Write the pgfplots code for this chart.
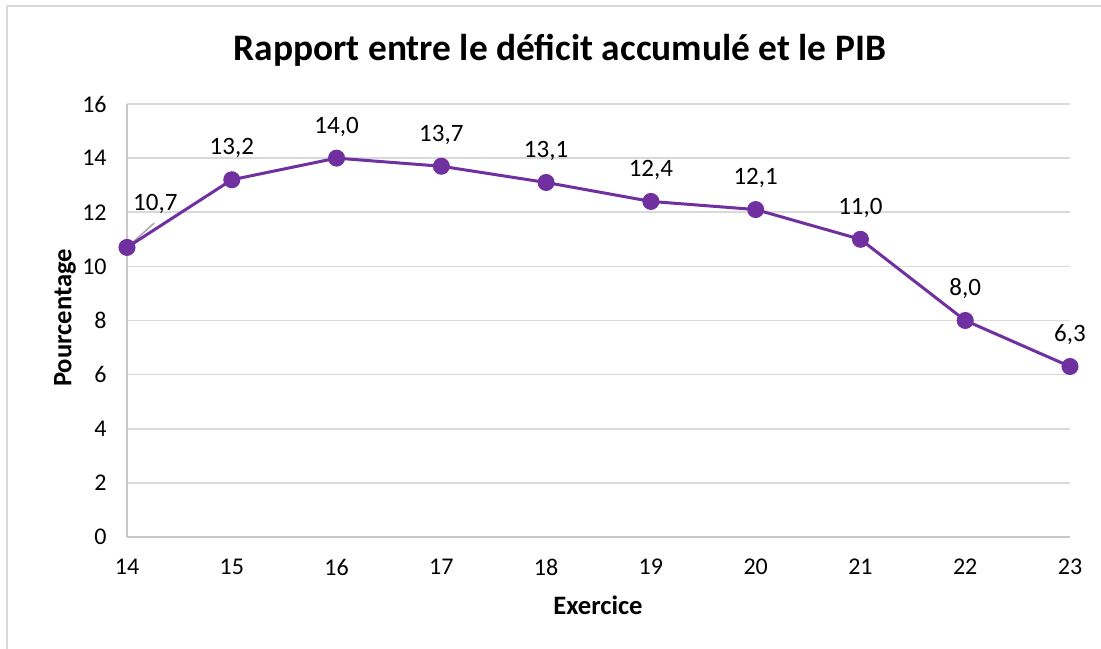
\documentclass[border=0pt]{standalone}
\usepackage{fontspec}
\setmainfont{Carlito}
\usepackage{pgfplots}
\pgfplotsset{compat=1.18}
\definecolor{cLine}{HTML}{7030A0}
\definecolor{cGrid}{HTML}{D9D9D9}
\definecolor{cAxis}{HTML}{C8C8C8}
\definecolor{cLead}{HTML}{A6A6A6}
\begin{document}
\begin{tikzpicture}
\useasboundingbox (-63.5pt,-55.5pt) rectangle (487pt,268.5pt);
% chart frame (only left and top edges fall inside the picture)
\draw[cGrid,line width=1pt] (-60pt,-60pt) -- (-60pt,265.5pt) -- (495pt,265.5pt);
\begin{axis}[
  at={(0,0)},anchor=south west,
  scale only axis,width=471.5pt,height=216.5pt,
  xmin=14,xmax=23,ymin=0,ymax=16,
  xtick={14,...,23},ytick={0,2,...,16},
  axis x line*=bottom,axis y line*=left,
  axis line style={draw=cAxis,line width=0.75pt},
  major tick length=0pt,
  ymajorgrids,major grid style={cGrid,line width=0.75pt},
  /pgf/number format/assume math mode=true,
  tick label style={font=\fontsize{12}{14}\selectfont,color=black},
  yticklabel style={anchor=east,inner sep=0pt,xshift=-10pt},
  xticklabel style={anchor=north,inner sep=0pt,yshift=-11pt},
  every axis title shift=0pt,
  title={Rapport entre le déficit accumulé et le PIB},
  title style={at={(rel axis cs:0.459,1.1247)},anchor=center,font=\fontsize{18.7}{22}\selectfont\bfseries},
  xlabel={Exercice},
  xlabel style={at={(rel axis cs:0.4995,-0.157)},anchor=center,font=\fontsize{13.3}{15}\selectfont\bfseries},
  ylabel={Pourcentage},
  ylabel style={at={(rel axis cs:-0.0657,0.506)},anchor=center,font=\fontsize{13.3}{15}\selectfont\bfseries},
  clip=false,
]
% leader line for the first data label
\draw[cLead,line width=0.75pt] (axis cs:14.26,11.6) -- (axis cs:14.0,10.7);
\addplot[cLine,line width=1.5pt,mark=*,mark size=3.5pt,mark options={fill=cLine,draw=cLine}]
  coordinates {(14,10.7) (15,13.2) (16,14.0) (17,13.7) (18,13.1) (19,12.4) (20,12.1) (21,11.0) (22,8.0) (23,6.3)};
\addplot[draw=none,mark=none,
  nodes near coords,point meta=explicit symbolic,
  every node near coord/.append style={anchor=base,yshift=12.5pt,font=\fontsize{12.5}{14}\selectfont,color=black}]
  table[meta=lab] {
x y lab
15 13.2 13,2
16 14.0 14,0
17 13.7 13,7
18 13.1 13,1
19 12.4 12,4
20 12.1 12,1
21 11.0 11,0
22 8.0 8,0
23 6.3 6,3
};
\node[anchor=base,font=\fontsize{12.5}{14}\selectfont] at (axis cs:14.27,12.08) {10,7};
\end{axis}
\end{tikzpicture}
\end{document}
